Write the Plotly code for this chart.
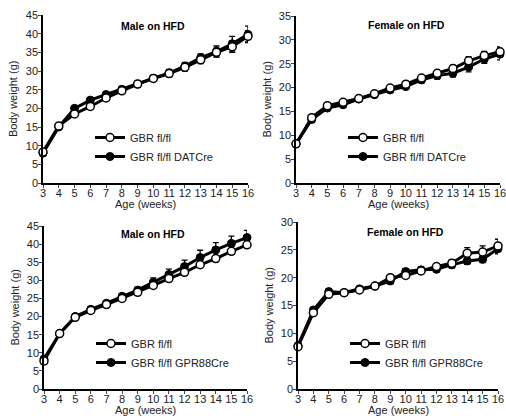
import plotly.graph_objects as go

weeks = list(range(3, 17))

# Panel 1: Male on HFD (DATCre)
m1_ctrl = [8.3, 15.3, 18.5, 20.5, 22.8, 24.7, 26.5, 28.0, 29.3, 31.0, 33.0, 35.0, 36.5, 39.3]
m1_ctrl_err = [0.5, 0.6, 0.7, 0.7, 0.7, 0.7, 0.8, 0.8, 0.9, 1.0, 1.0, 1.2, 1.5, 1.5]
m1_cre = [8.0, 15.0, 20.0, 22.2, 23.7, 25.1, 26.5, 28.0, 29.5, 31.3, 33.6, 35.2, 37.3, 39.8]
m1_cre_err = [0.5, 0.6, 0.6, 0.6, 0.6, 0.7, 0.8, 0.8, 0.9, 1.0, 1.0, 1.5, 2.0, 2.2]

# Panel 2: Female on HFD (DATCre)
f1_ctrl = [8.2, 13.7, 16.2, 16.9, 17.7, 18.7, 19.9, 20.7, 22.0, 23.0, 24.0, 25.6, 26.7, 27.5]
f1_ctrl_err = [0.3, 0.4, 0.4, 0.4, 0.4, 0.4, 0.5, 0.5, 0.5, 0.6, 0.7, 0.9, 0.9, 1.0]
f1_cre = [8.2, 13.3, 15.7, 16.4, 17.6, 18.5, 19.5, 20.2, 21.6, 22.5, 23.0, 24.3, 26.0, 27.0]
f1_cre_err = [0.3, 0.4, 0.4, 0.4, 0.4, 0.4, 0.5, 0.5, 0.6, 0.7, 0.8, 1.0, 0.9, 1.2]

# Panel 3: Male on HFD (GPR88Cre)
m2_ctrl = [7.7, 15.3, 19.8, 21.7, 23.3, 25.0, 26.7, 28.6, 30.5, 32.2, 34.3, 36.0, 38.0, 39.8]
m2_ctrl_err = [0.4, 0.4, 0.5, 0.5, 0.5, 0.5, 0.6, 0.6, 0.7, 0.7, 0.8, 0.8, 0.8, 0.9]
m2_cre = [8.3, 15.3, 20.0, 22.0, 23.7, 25.6, 27.3, 29.5, 31.6, 33.8, 36.3, 38.4, 40.2, 41.8]
m2_cre_err = [0.4, 0.4, 0.5, 0.5, 0.5, 0.6, 0.8, 1.2, 1.5, 1.8, 2.0, 2.0, 2.0, 2.0]

# Panel 4: Female on HFD (GPR88Cre)
f2_ctrl = [7.6, 13.7, 17.0, 17.3, 17.8, 18.5, 20.0, 20.4, 21.2, 22.0, 22.6, 24.4, 24.6, 25.7]
f2_ctrl_err = [0.3, 0.4, 0.4, 0.4, 0.4, 0.4, 0.5, 0.5, 0.5, 0.5, 0.6, 1.0, 1.1, 1.2]
f2_cre = [7.8, 14.2, 17.5, 17.3, 18.0, 18.5, 19.4, 21.1, 21.4, 21.5, 22.3, 23.0, 23.3, 25.2]
f2_cre_err = [0.3, 0.4, 0.4, 0.4, 0.4, 0.4, 0.5, 0.5, 0.5, 0.5, 0.6, 0.6, 0.6, 0.9]

titles = ["Male on HFD", "Female on HFD", "Male on HFD", "Female on HFD"]
ctrl_name = "GBR fl/fl"
cre_names = ["GBR fl/fl DATCre", "GBR fl/fl DATCre", "GBR fl/fl GPR88Cre", "GBR fl/fl GPR88Cre"]
y_max = [45, 35, 45, 30]
x_ticks = weeks
x_title = "Age (weeks)"
y_title = "Body weight (g)"

panels = [
    (m1_ctrl, m1_ctrl_err, m1_cre, m1_cre_err),
    (f1_ctrl, f1_ctrl_err, f1_cre, f1_cre_err),
    (m2_ctrl, m2_ctrl_err, m2_cre, m2_cre_err),
    (f2_ctrl, f2_ctrl_err, f2_cre, f2_cre_err),
]

W, H = 506, 418
# pixel boxes: (left, right, top, bottom)
boxes = [(43, 248, 15, 183), (296, 500, 16, 183), (44, 247, 226, 389), (298, 498, 222, 389)]
title_pos = [(153, 26), (406, 25), (153, 234), (405, 232)]

FONT = "Liberation Sans, Arial, sans-serif"
fig = go.Figure()
layout = {}
annotations = []
for i, (ctrl, ctrl_e, cre, cre_e) in enumerate(panels):
    n = i + 1
    xa = "x" if n == 1 else f"x{n}"
    ya = "y" if n == 1 else f"y{n}"
    leg = "legend" if n == 1 else f"legend{n}"
    fig.add_trace(go.Scatter(
        x=weeks, y=cre, name=cre_names[i], mode="lines+markers",
        xaxis=xa, yaxis=ya, legend=leg, cliponaxis=False,
        line=dict(color="black", width=3),
        marker=dict(symbol="circle", size=8, color="black", line=dict(color="black", width=1)),
        error_y=dict(type="data", array=cre_e, color="black", thickness=1.3, width=3),
    ))
    fig.add_trace(go.Scatter(
        x=weeks, y=ctrl, name=ctrl_name, mode="lines+markers",
        xaxis=xa, yaxis=ya, legend=leg, cliponaxis=False,
        line=dict(color="black", width=3),
        marker=dict(symbol="circle", size=8, color="white", line=dict(color="black", width=1.5)),
        error_y=dict(type="data", array=ctrl_e, color="black", thickness=1.3, width=3),
    ))
    l, r, t, b = boxes[i]
    xd = [l / W, r / W]
    yd = [1 - b / H, 1 - t / H]
    layout["xaxis" if n == 1 else f"xaxis{n}"] = dict(
        domain=xd, range=[3, 16], tickvals=x_ticks, ticks="outside", ticklen=3,
        tickwidth=1, showline=True, linecolor="black", linewidth=1.5,
        showgrid=False, zeroline=False, anchor=ya, ticklabelstandoff=-4,
        ticklabeloverflow="allow",
        tickfont=dict(family=FONT, size=11, color="#222"),
    )
    layout["yaxis" if n == 1 else f"yaxis{n}"] = dict(
        domain=yd, range=[0, y_max[i]], dtick=5, ticks="outside", ticklen=3,
        tickwidth=1, showline=True, linecolor="black", linewidth=1.5,
        showgrid=False, zeroline=False, anchor=xa, ticklabelstandoff=-2,
        ticklabeloverflow="allow",
        tickfont=dict(family=FONT, size=11, color="#222"),
    )
    layout[leg] = dict(
        x=(l + 47) / W, y=1 - (b - 60) / H, xanchor="left", yanchor="top",
        bgcolor="rgba(0,0,0,0)", traceorder="reversed",
        font=dict(family=FONT, size=11, color="#222"), itemwidth=30,
    )
    tx, ty = title_pos[i]
    annotations.append(dict(
        text=f"<b>{titles[i]}</b>", x=tx / W, y=1 - ty / H,
        xref="paper", yref="paper", showarrow=False,
        font=dict(family=FONT, size=10.5, color="black"), xanchor="center", yanchor="middle",
    ))
    annotations.append(dict(
        text=x_title, x=(l + r) / 2 / W, y=1 - (b + 21) / H,
        xref="paper", yref="paper", showarrow=False,
        font=dict(family=FONT, size=11, color="#222"), xanchor="center", yanchor="middle",
    ))
    annotations.append(dict(
        text=y_title, x=(l - 30) / W, y=1 - (t + b) / 2 / H, textangle=-90,
        xref="paper", yref="paper", showarrow=False,
        font=dict(family=FONT, size=11, color="#222"), xanchor="center", yanchor="middle",
    ))

fig.update_layout(
    width=W, height=H, margin=dict(l=0, r=0, t=0, b=0, autoexpand=False),
    paper_bgcolor="white", plot_bgcolor="white",
    annotations=annotations, **layout,
)
fig.write_html("out.html", config={"displayModeBar": False},
               post_script="document.body.style.margin='0';")
